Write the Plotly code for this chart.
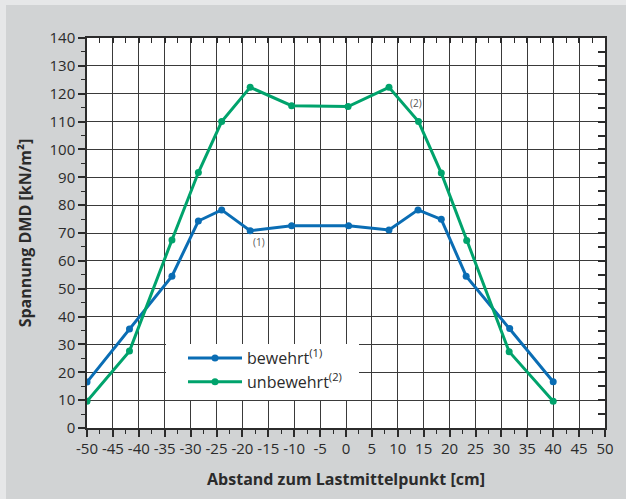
import plotly.graph_objects as go

# Data
x_bewehrt = [-50, -41.8, -33.6, -28.5, -24.0, -18.5, -10.5, 0.5, 8.3, 13.9, 18.4, 23.2, 31.6, 40]
y_bewehrt = [16.5, 35.5, 54.5, 74.3, 78.3, 70.8, 72.6, 72.6, 71.1, 78.3, 74.9, 54.5, 35.7, 16.6]

x_unbewehrt = [-50, -41.8, -33.6, -28.5, -24.0, -18.5, -10.5, 0.4, 8.3, 14.0, 18.4, 23.3, 31.5, 40]
y_unbewehrt = [9.6, 27.6, 67.5, 91.7, 110.0, 122.3, 115.7, 115.4, 122.3, 110.0, 91.5, 67.3, 27.4, 9.6]

x_ticks = list(range(-50, 51, 5))
y_ticks = list(range(0, 141, 10))

BLUE = "#0a6db4"
GREEN = "#00a36c"
TXT = "#2b2b2b"
FONT = "Open Sans"

fig = go.Figure()
fig.add_trace(go.Scatter(
    x=x_bewehrt, y=y_bewehrt, mode="lines+markers",
    name="bewehrt<sup>(1)</sup>",
    line=dict(color=BLUE, width=3), marker=dict(color=BLUE, size=7)))
fig.add_trace(go.Scatter(
    x=x_unbewehrt, y=y_unbewehrt, mode="lines+markers",
    name="unbewehrt<sup>(2)</sup>",
    line=dict(color=GREEN, width=3), marker=dict(color=GREEN, size=7)))
# helper trace for mirrored axes (top / right)
fig.add_trace(go.Scatter(x=[None], y=[None], xaxis="x2", yaxis="y2",
                         showlegend=False, hoverinfo="skip"))

L, R, T, B = 87, 21, 38, 71
W, H = 626, 499
pw, ph = W - L - R, H - T - B

fig.update_layout(
    width=W, height=H,
    margin=dict(l=L, r=R, t=T, b=B, autoexpand=False),
    paper_bgcolor="#d1d3d4",
    plot_bgcolor="white",
    font=dict(family=FONT, color=TXT, size=15),
    showlegend=True,
    legend=dict(
        x=(183 - L) / pw, y=(H - B - 341) / ph, xanchor="left", yanchor="top",
        bgcolor="rgba(0,0,0,0)", borderwidth=0,
        font=dict(family=FONT, size=16, color=TXT),
        itemwidth=54, tracegroupgap=0,
    ),
    xaxis=dict(
        range=[-50, 50], tickvals=x_ticks, ticktext=[str(v) for v in x_ticks],
        automargin=False,
        showgrid=True, gridcolor="#3a3a3a", gridwidth=1,
        showline=True, linecolor="#2b2b2b", linewidth=1.5, mirror=True,
        ticks="outside", ticklen=7, tickwidth=1.5, tickcolor="#2b2b2b",
        minor=dict(dtick=2.5, tick0=0, ticks="outside", ticklen=4, tickwidth=1.2,
                   tickcolor="#2b2b2b", showgrid=False),
        tickfont=dict(size=15, family=FONT, color=TXT),
        ticklabelstandoff=-1,
        zeroline=False,
        title=dict(text="<b>Abstand zum Lastmittelpunkt [cm]</b>",
                   font=dict(size=16, family=FONT, color=TXT), standoff=17),
    ),
    yaxis=dict(
        range=[0, 140], tickvals=y_ticks,
        automargin=False,
        showgrid=True, gridcolor="#3a3a3a", gridwidth=1,
        showline=True, linecolor="#2b2b2b", linewidth=1.5, mirror=True,
        ticks="outside", ticklen=7, tickwidth=1.5, tickcolor="#2b2b2b",
        minor=dict(dtick=5, tick0=0, ticks="outside", ticklen=4, tickwidth=1.2,
                   tickcolor="#2b2b2b", showgrid=False),
        tickfont=dict(size=15, family=FONT, color=TXT),
        zeroline=False,
        title=dict(text="<b>Spannung DMD [kN/m²]</b>",
                   font=dict(size=16, family=FONT, color=TXT), standoff=14),
    ),
    xaxis2=dict(
        overlaying="x", side="top", matches="x", anchor="y", automargin=False,
        range=[-50, 50], showticklabels=False, showgrid=False, zeroline=False,
        tickvals=x_ticks, ticks="inside", ticklen=5, tickwidth=1.5, tickcolor="#2b2b2b",
        minor=dict(dtick=2.5, tick0=0, ticks="inside", ticklen=5, tickwidth=1.2,
                   tickcolor="#2b2b2b", showgrid=False),
    ),
    yaxis2=dict(
        overlaying="y", side="right", matches="y", anchor="x", automargin=False,
        range=[0, 140], showticklabels=False, showgrid=False, zeroline=False,
        tickvals=list(range(0, 141, 5)), ticks="inside", ticklen=7, tickwidth=1.5,
        tickcolor="#2b2b2b",
    ),
)

# light outer strips (left and top)
fig.add_shape(type="rect", xref="paper", yref="paper", layer="above",
              x0=(0 - L) / pw, x1=(6 - L) / pw, y0=-B / ph, y1=1 + T / ph,
              fillcolor="#e6e7e8", line=dict(width=0))
fig.add_shape(type="rect", xref="paper", yref="paper", layer="above",
              x0=(0 - L) / pw, x1=1 + R / pw, y0=1 + (T - 5) / ph, y1=1 + T / ph,
              fillcolor="#e6e7e8", line=dict(width=0))
# legend background box
fig.add_shape(type="rect", xref="paper", yref="paper", layer="above",
              x0=(166 - L) / pw, x1=(359 - L) / pw,
              y0=(H - B - 400) / ph, y1=(H - B - 344) / ph,
              fillcolor="white", line=dict(width=0))

fig.add_annotation(x=-16.7, y=66.7, text="(1)", showarrow=False,
                   font=dict(size=10, family=FONT, color="#555555"))
fig.add_annotation(x=13.5, y=116.6, text="(2)", showarrow=False,
                   font=dict(size=10, family=FONT, color="#555555"))

fig.write_html(
    "out.html",
    config={"displayModeBar": False},
    post_script="document.body.style.margin='0';document.body.style.overflow='hidden';",
)
